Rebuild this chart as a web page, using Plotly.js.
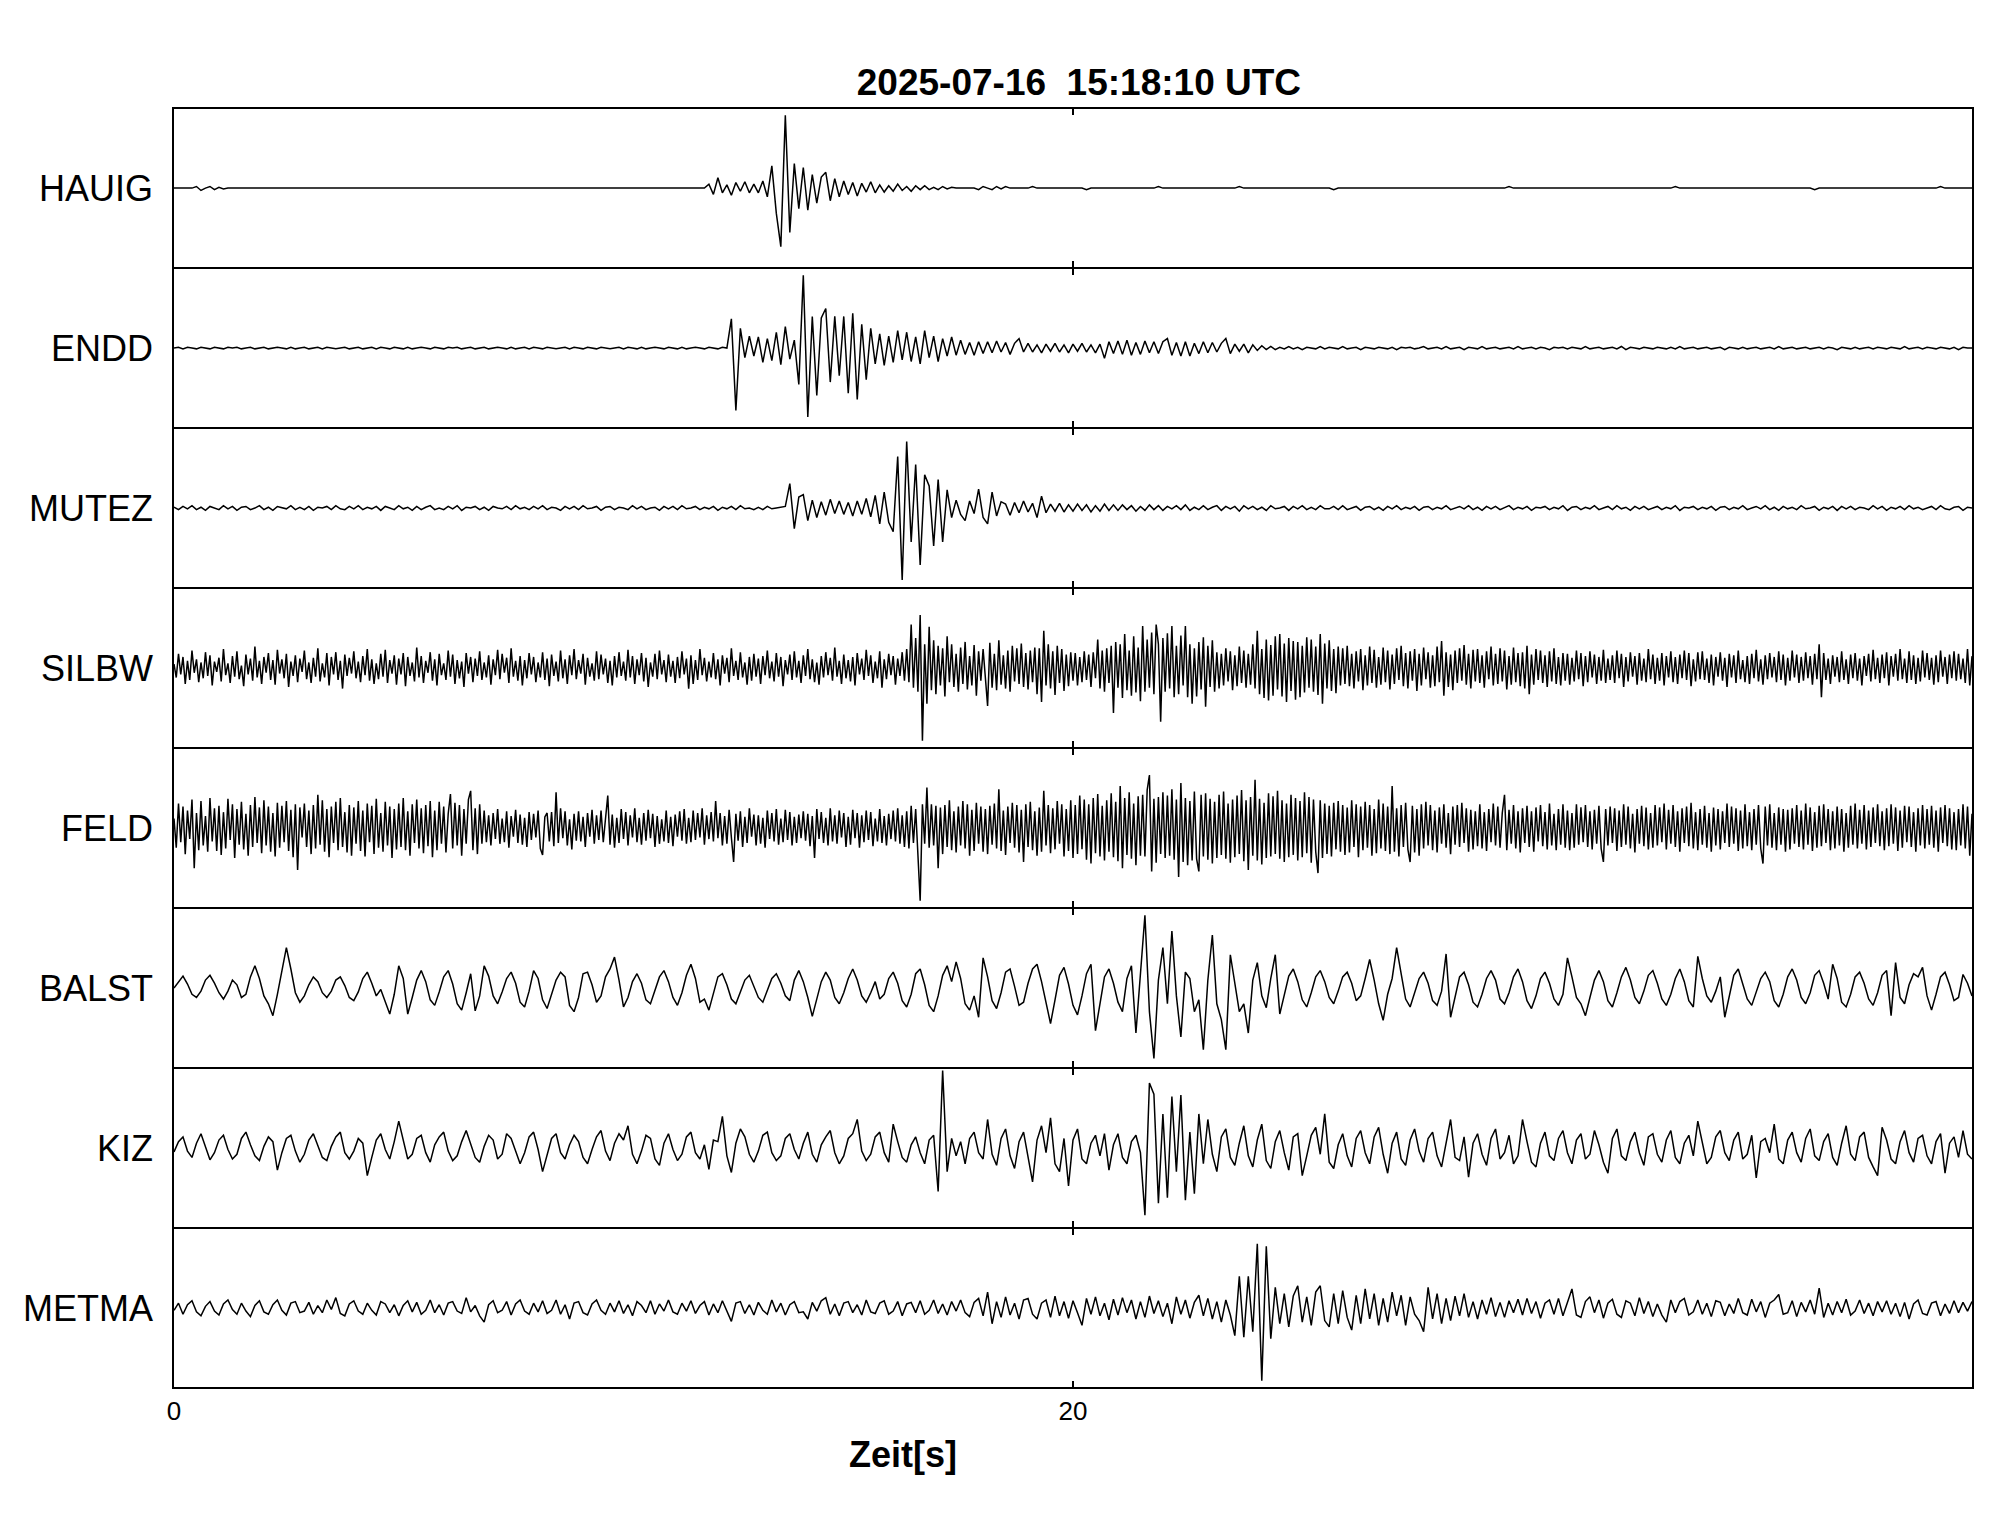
<!DOCTYPE html>
<html>
<head>
<meta charset="utf-8">
<script src="https://cdn.plot.ly/plotly-3.0.1.min.js"></script>
<style>html,body{margin:0;padding:0;background:#fff;}#chart{width:2005px;height:1522px;}</style>
</head>
<body>
<div id="chart"></div>
<script>
// Station names (top to bottom) and sample step (s) of each trace
const stations = ['HAUIG','ENDD','MUTEZ','SILBW','FELD','BALST','KIZ','METMA'];
const sampleStep = [0.1, 0.1, 0.1, 0.05, 0.05, 0.1, 0.1, 0.1];
const xTickVals = [0, 20];
const xTickText = ['0', '20'];
const titleText = '2025-07-16\u00a0 15:18:10 UTC';
const xTitleText = 'Zeit[s]';

// Normalised amplitudes (panel half-height = 100), one row per second
const HAUIG = [
0,0,0,0,0,2,-3,0,2,-2,
1,-1,0,0,0,0,0,0,0,0,
0,0,0,0,0,0,0,0,0,0,
0,0,0,0,0,0,0,0,0,0,
0,0,0,0,0,0,0,0,0,0,
0,0,0,0,0,0,0,0,0,0,
0,0,0,0,0,0,0,0,0,0,
0,0,0,0,0,0,0,0,0,0,
0,0,0,0,0,0,0,0,0,0,
0,0,0,0,0,0,0,0,0,0,
0,0,0,0,0,0,0,0,0,0,
0,0,0,0,0,0,0,0,0,5,
-8,13,-6,4,-9,7,-4,8,-6,5,
-6,9,-11,28,-32,-74,92,-56,31,-26,
26,-28,17,-19,14,20,-16,12,-11,9,
-8,7,-10,6,-5,8,-6,4,-5,3,
-4,5,-3,2,-4,3,-2,3,-2,1,
-2,2,-1,1,0,0,0,0,0,-2,
2,0,-2,2,-1,2,0,0,0,0,
0,2,0,0,0,0,0,0,0,0,
0,0,0,-2,0,0,0,0,0,0,
0,0,0,0,0,0,0,0,0,2,
0,0,0,0,0,0,0,0,0,0,
0,0,0,0,0,0,0,2,0,0,
0,0,0,0,0,0,0,0,0,0,
0,0,0,0,0,0,0,0,-2,0,
0,0,0,0,0,0,0,0,0,0,
0,0,0,0,0,0,0,0,0,0,
0,0,0,0,0,0,0,0,0,0,
0,0,0,0,0,0,0,2,0,0,
0,0,0,0,0,0,0,0,0,0,
0,0,0,0,0,0,0,0,0,0,
0,0,0,0,0,0,0,0,0,0,
0,0,0,0,2,0,0,0,0,0,
0,0,0,0,0,0,0,0,0,0,
0,0,0,0,0,0,0,0,0,0,
0,0,0,0,0,-2,0,0,0,0,
0,0,0,0,0,0,0,0,0,0,
0,0,0,0,0,0,0,0,0,0,
0,0,0,2,0,0,0,0,0,0,
0];

const ENDD = [
0,1,-1,1,0,-1,1,0,-1,1,
0,-1,1,0,1,-1,0,1,-1,0,
1,-1,0,1,0,-1,1,-1,0,1,
-1,0,1,-1,1,0,-1,0,1,-1,
0,1,-1,0,1,-1,1,0,-1,1,
0,-1,1,-1,0,1,0,-1,1,0,
-1,1,0,1,-1,0,1,-1,0,1,
-1,0,1,0,-1,1,-1,0,1,-1,
1,0,-1,1,0,-1,0,1,-1,1,
0,-1,1,0,-1,1,0,-1,0,1,
-1,1,0,-1,1,-1,0,1,0,-1,
1,0,-1,1,-1,0,1,0,-1,1,
0,-1,1,0,37,-79,25,-12,15,-10,
14,-18,12,-16,20,-21,27,-14,10,-46,
92,-87,40,-60,38,50,-43,40,-35,40,
-57,44,-65,30,-40,25,-20,18,-22,15,
-18,22,-15,20,-17,14,-20,22,-12,15,
-17,12,-10,14,-9,10,-8,7,-9,8,
-7,8,-6,9,-5,7,-8,6,12,-5,
6,-5,4,-6,5,-4,6,-5,4,-6,
5,-4,6,-5,4,-6,5,-13,8,-7,
9,-8,10,-9,7,-8,9,-6,8,-7,
8,12,-9,7,-10,8,-10,6,-7,8,
-6,7,-5,6,12,-7,5,-4,5,-6,
4,-3,3,-2,2,-2,1,-1,2,-1,
1,-2,1,0,-1,2,-1,1,0,-1,
2,-1,0,1,-2,1,0,-1,1,0,
-1,1,-2,1,0,1,-1,0,2,-1,
0,1,-1,2,-1,0,1,-2,1,0,
-1,2,-1,0,1,-1,0,1,-1,2,
-1,0,1,-1,1,0,-2,1,0,1,
-1,1,0,-1,2,-1,0,1,-1,0,
1,-1,2,-2,1,0,-1,1,0,-1,
1,0,-1,1,-1,2,-1,0,1,-1,
0,1,-1,0,1,-2,1,0,-1,1,
-1,0,1,-1,0,1,-1,2,-1,0,
1,-1,0,1,-1,0,1,-1,1,0,
-2,1,0,-1,1,-1,0,1,-1,1,
0,-1,1,0,-1,2,-1,0,1,-1,
1,0,-1,1,0,-1,1,-2,1,0,
0];

const MUTEZ = [
1,-2,2,-1,3,-2,1,-3,2,0,
-2,3,-1,2,-3,1,2,-2,0,3,
-2,1,-3,2,0,-1,3,-2,1,-2,
2,-3,1,0,2,-2,3,-1,-2,2,
-1,3,-2,1,-1,2,-3,2,0,-2,
3,-1,1,-3,2,-2,1,3,-2,0,
-2,2,-1,3,-3,1,0,2,-2,1,
-3,2,0,-1,2,-2,3,-1,1,-2,
2,-1,3,-2,1,0,-3,2,-1,2,
-2,3,-1,0,2,-3,1,2,-2,1,
0,-2,3,-1,2,-2,0,1,-3,2,
-1,2,-2,3,-1,0,2,-2,1,-1,
2,-3,1,-1,2,-2,3,-1,0,-2,
1,-2,2,-1,0,1,2,31,-26,14,
17,-16,10,-12,8,-9,11,-7,9,-8,
7,-10,9,-8,12,-11,16,-20,20,-18,
-30,65,-91,84,-43,55,-72,42,28,-48,
36,-43,23,-12,10,-8,-16,9,-7,24,
-12,-20,20,-10,8,5,-9,7,-6,9,
-5,6,-12,15,-6,5,-4,6,-5,4,
-4,5,-3,4,-5,3,-4,5,-3,4,
-3,4,-2,3,-4,2,-3,4,-2,3,
-3,2,-1,3,-2,4,-3,1,-2,3,
-2,1,3,-3,2,-1,2,-4,3,-1,
2,-2,1,-3,3,-1,0,2,-3,2,
-1,3,-2,1,-2,3,-1,-1,2,-2,
3,-2,0,2,-3,1,2,-2,1,-3,
2,-1,3,-2,1,-1,2,-3,1,2,
-2,1,-1,3,-2,0,2,-1,3,-2,
1,-3,2,-1,2,-2,1,3,-2,1,
-1,2,-3,1,0,2,-2,1,-1,3,
-3,1,2,-2,1,-1,3,-2,0,2,
-2,3,-1,1,-3,2,-1,2,-2,0,
2,-2,1,-1,3,-3,1,0,2,-2,
1,-1,2,-3,1,2,-2,1,-1,3,
-2,0,2,-1,3,-2,1,-3,2,-1,
1,-2,3,-1,0,2,-3,1,-1,2,
-3,2,-1,2,-2,1,0,-2,3,-1,
2,-3,1,-1,2,-2,3,-1,1,-2,
0,2,-2,3,-1,-2,1,2,-3,1,
0];

const SILBW = [
5,-12,18,-8,14,-20,9,-15,22,-6,11,-18,7,-13,20,-10,16,-22,8,-5,
13,-17,24,-9,6,-19,15,-11,21,-14,3,-23,17,-8,12,-16,27,-12,9,-20,
14,-6,19,-15,10,-21,23,-7,11,-13,18,-24,8,-10,16,-18,12,-5,22,-14,
7,-19,13,-11,25,-17,6,-12,19,-22,14,-8,20,-15,9,-26,17,-10,13,-7,
21,-13,8,-18,15,-9,24,-16,11,-20,6,-14,18,-11,23,-19,10,-7,16,-21,
12,-8,19,-23,14,-10,7,-17,26,-12,15,-19,9,-6,20,-16,11,-22,18,-9,
6,-15,22,-11,17,-20,10,-13,8,-24,19,-7,14,-18,12,-10,21,-15,7,-12,
16,-21,11,-9,23,-14,18,-6,13,-19,25,-11,9,-16,15,-22,10,-13,19,-8,
14,-18,7,-12,20,-15,12,-23,17,-10,8,-17,22,-13,11,-20,16,-9,24,-14,
10,-7,18,-21,13,-11,6,-16,21,-14,17,-8,12,-19,9,-22,15,-12,20,-10,
8,-16,23,-12,15,-20,11,-9,19,-17,13,-24,7,-11,18,-14,22,-8,10,-18,
17,-11,9,-19,14,-13,21,-8,12,-26,16,-20,10,-15,24,-9,13,-17,8,-12,
19,-14,11,-22,16,-7,13,-18,25,-10,9,-15,20,-12,7,-21,14,-16,18,-11,
12,-20,15,-9,22,-13,8,-17,19,-11,14,-23,10,-8,17,-15,21,-12,9,-19,
16,-10,24,-14,11,-18,7,-21,15,-12,20,-9,13,-16,26,-11,9,-20,17,-13,
10,-17,14,-22,19,-8,12,-15,23,-10,16,-19,8,-13,21,-25,11,-14,18,-9,
15,-21,12,-10,20,-16,24,-18,55,-25,38,-30,67,-92,30,-45,52,-28,35,-33,
28,-22,25,-36,40,-18,30,-24,18,-30,26,-20,33,-27,15,-22,29,-35,21,-16,
24,-19,-48,32,-25,18,-28,35,-21,16,-26,22,-30,28,-17,25,-20,31,-24,19,
-27,22,-18,26,-33,25,-43,47,-22,30,-26,21,-34,28,-19,24,-29,17,-23,20,
-16,19,-22,14,-18,21,-15,17,-24,20,-13,36,-26,22,-30,25,-19,28,-57,33,
-25,30,-38,43,-28,22,-35,40,-31,26,-42,53,-30,36,-25,45,-33,55,30,-68,
38,-30,44,-26,53,-37,28,-33,41,-22,53,-37,30,-45,25,-36,33,-27,39,-49,
28,-24,35,-30,20,-26,18,-22,25,-17,21,-28,16,-23,27,-19,22,-25,18,-21,
30,-26,47,-33,24,-38,36,-41,29,-35,40,-27,43,-36,31,-43,38,-29,34,-40,
33,-37,28,-31,39,-25,36,-30,27,-34,43,-45,31,-26,35,-29,24,-32,27,-22,
25,-20,28,-23,18,-26,21,-17,24,-28,16,-22,27,-19,23,-25,14,-21,26,-18,
22,-27,17,-20,25,-15,28,-23,19,-26,21,-16,24,-29,18,-22,26,-14,20,-25,
16,-23,27,-18,34,-35,20,-24,17,-28,22,-19,25,-16,29,-21,18,-26,23,-17,
24,-19,16,-25,21,-14,27,-22,18,-20,25,-17,22,-27,15,-21,26,-18,19,-23,
20,-26,28,-33,17,-21,24,-15,22,-19,16,-24,21,-17,25,-20,14,-22,19,-16,
18,-21,13,-17,22,-14,19,-23,15,-18,21,-12,17,-20,14,-16,23,-19,12,-15,
16,-19,22,-13,18,-24,14,-17,20,-11,15,-21,19,-16,12,-18,24,-14,17,-20,
13,-16,19,-22,15,-12,21,-18,14,-20,17,-13,22,-15,19,-23,11,-17,20,-14,
21,-15,12,-19,17,-22,14,-11,20,-16,13,-24,18,-12,16,-19,22,-14,10,-18,
15,-20,18,-13,23,-17,11,-21,16,-14,19,-12,14,-18,21,-15,17,-22,13,-16,
22,-12,17,-19,14,-16,20,-13,15,-21,18,-14,30,-37,19,-15,12,-20,16,-11,
14,-18,21,-15,11,-20,17,-13,19,-16,12,-22,15,-10,18,-17,23,-14,13,-19,
17,-13,20,-22,15,-11,18,-16,24,-14,12,-19,21,-15,16,-20,13,-17,22,-12,
19,-15,13,-21,16,-18,22,-11,14,-20,17,-13,21,-16,18,-14,12,-19,24,-22,
15];

const FELD = [
12,-25,31,-18,27,-33,22,-14,36,-51,19,-28,34,-22,15,-30,38,-17,25,-29,
28,-34,20,-26,37,-15,30,-38,24,-21,33,-27,18,-35,29,-24,39,-19,26,-32,
35,-22,27,-30,19,-36,32,-25,28,-18,34,-29,23,-37,30,-53,26,-12,31,-24,
22,-33,29,-26,42,-21,35,-30,24,-37,27,-19,33,-28,38,-24,20,-31,29,-35,
26,-20,34,-29,22,-36,31,-18,28,-33,37,-25,19,-30,33,-22,27,-38,24,-27,
31,-24,38,-28,21,-35,30,-19,36,-26,25,-32,29,-23,34,-37,22,-28,33,-20,
27,-31,18,43,-26,32,-22,29,-35,24,-20,36,47,-28,25,-33,30,-20,22,-18,
16,-22,19,-14,24,-20,12,-18,21,-25,15,-11,23,-19,17,-21,13,-24,20,-15,
18,-12,22,-26,-34,14,19,-17,20,-23,45,-19,25,-13,21,-22,11,-27,18,-16,
21,-17,14,-24,19,-11,23,-20,16,-15,22,-18,12,41,-21,17,-25,13,-19,24,
-14,20,-22,16,-12,25,-18,13,-21,19,-16,23,-13,18,-24,15,-20,11,-17,22,
-19,14,-23,17,-11,21,-16,24,-20,13,-18,22,-15,19,-12,25,-21,16,-14,20,
-17,34,-13,19,-22,15,-20,23,-12,-43,18,-16,21,-24,14,-19,25,-11,17,-22,
16,-20,13,-25,22,-14,19,-17,24,-21,12,-18,23,-15,20,-22,14,-19,17,-13,
21,-16,18,-23,15,-38,24,-14,20,-19,13,-22,25,-17,16,-20,22,-12,19,-24,
14,-21,23,-13,19,-25,16,-18,22,-15,20,-23,12,-17,24,-19,15,-22,18,-14,
22,-17,25,-20,16,-24,21,-26,28,-19,24,-30,-92,30,-20,51,-25,30,-22,28,
-51,26,-33,29,-24,35,-28,21,-31,27,-22,34,-26,30,-35,23,-29,32,-20,27,
-30,24,-33,28,-21,31,-26,49,-29,22,-34,27,-19,32,-25,29,-31,23,-43,30,
-24,33,-28,21,-35,26,-30,47,-22,29,-32,25,-27,34,-20,30,-36,24,-29,35,
-38,29,-33,41,-27,36,-40,30,-45,38,-32,43,-36,28,-41,35,-30,44,-37,33,
-42,53,-51,38,-34,45,-39,31,-47,40,-35,42,-36,48,67,-55,37,-44,39,-33,
45,-38,41,-35,49,-40,36,-62,57,-43,38,-47,34,-41,46,-39,-55,42,-36,44,
-40,37,-45,33,-38,42,-34,46,-39,31,-44,36,-37,41,-33,48,-42,35,-53,39,
-35,61,-41,37,-46,32,-38,44,-36,40,-33,47,-39,35,-43,31,-37,42,-34,38,
-41,34,-37,45,-32,39,-44,36,-30,-57,35,-38,31,-33,28,-36,32,-27,34,-30,
29,-34,26,-31,35,-24,30,-37,27,-28,33,-25,29,-35,24,-32,36,-26,31,-29,
27,-33,53,-30,25,-36,29,-24,32,-27,-43,28,-31,24,-35,30,-26,33,-22,29,
-28,22,-31,26,-20,30,-25,19,-33,27,-21,29,-24,32,-19,25,-30,23,-27,21,
-23,30,-26,20,-29,24,-18,31,-22,27,-25,19,42,-28,23,-20,29,-26,21,-31,
25,-19,28,-24,21,-30,26,-17,29,-23,20,-27,31,-22,18,-28,24,-21,30,-25,
22,-28,19,-25,30,-21,26,-18,29,-24,21,-27,23,-20,28,-26,-43,24,-22,27,
-19,25,-29,22,-24,30,-21,27,-26,18,-31,24,-20,28,-23,26,-27,19,-25,29,
-22,26,-18,31,-27,23,-20,29,-24,21,-30,25,-19,27,-23,32,-26,20,-28,24,
-21,28,-25,19,-30,26,-22,24,-27,21,-19,31,-24,27,-20,25,-29,22,-26,30,
-23,20,-28,24,-21,29,-26,-45,27,-22,30,-25,19,-28,26,-21,24,-30,23,-27,
25,-20,29,-24,22,-27,31,-21,26,-29,20,-25,28,-23,30,-19,24,-28,21,-26,
27,-22,24,-30,19,-25,28,-21,31,-26,23,-20,29,-27,22,-24,26,-19,30,-23,
21,-28,25,-23,30,-20,26,-29,22,-25,28,-18,27,-24,20,-30,25,-22,29,-26,
24,-21,28,-25,22,-30,26,-19,29,-23,25,-27,20,-28,24,-22,30,-26,27,-35,
18];

const BALST = [
0,8,15,5,-8,-12,-4,10,16,6,
-6,-14,-4,10,4,-12,-8,14,28,12,
-10,-20,-35,-8,22,51,24,-6,-18,-10,
4,14,8,-6,-12,-4,10,14,3,-12,
-16,-5,12,20,6,-10,-2,-18,-33,-8,
28,12,-33,-12,10,22,8,-15,-22,-5,
14,22,5,-20,-28,-6,18,-29,-10,28,
15,-10,-20,-5,12,20,6,-18,-24,-4,
22,12,-15,-26,-8,10,20,14,-22,-30,
-12,18,20,4,-18,-10,14,24,39,10,
-24,-12,8,18,6,-15,-20,-4,14,22,
8,-12,-22,-6,16,30,12,-18,-14,-28,
-6,14,18,4,-14,-20,-5,10,16,3,
-12,-18,-4,12,18,6,-10,-16,10,22,
8,-12,-36,-14,8,20,10,-12,-20,-6,
12,24,10,-10,-18,-6,8,-14,-8,12,
20,6,-16,-24,-8,18,24,4,-22,-30,
-10,16,28,8,33,12,-20,-28,-10,-37,
38,14,-16,-26,-6,20,24,2,-22,-18,
6,24,30,8,-20,-45,-15,16,26,5,
-22,-34,-10,18,30,-54,-20,14,24,6,
-18,-30,12,28,-57,20,92,-30,-89,10,
51,-20,72,-10,-62,20,12,-30,-15,-78,
10,67,-20,-40,-78,42,5,-30,-20,-57,
10,32,-10,-25,12,42,-33,-8,15,24,
8,-15,-24,-6,14,22,8,-12,-20,-4,
14,20,6,-16,-10,12,36,10,-20,-41,
-8,12,51,18,-14,-24,-6,12,20,6,
-16,-22,-4,43,-37,-10,14,20,4,-18,
-24,-8,12,22,10,-14,-20,-6,14,24,
8,-16,-26,-10,12,20,6,-14,-22,-8,
38,14,-12,-20,-35,-12,10,22,8,-16,
-24,-6,14,26,10,-12,-20,-4,16,22,
6,-14,-22,-8,12,24,8,-16,-24,40,
12,-10,-18,-4,14,-37,-10,16,24,6,
-14,-22,-6,12,20,8,-16,-24,-8,14,
24,10,-12,-20,-6,16,22,6,-14,30,
12,-18,-24,-8,14,20,6,-14,-22,-6,
16,22,-35,32,-12,-20,4,18,14,26,
-10,-28,-8,14,20,4,-16,-12,17,6,
-10];

const KIZ = [
-5,8,14,-4,-12,6,18,2,-15,-6,
10,16,-2,-14,-8,12,20,4,-10,-16,
2,14,8,-28,-6,12,16,-4,-18,-8,
10,18,4,-12,-16,2,14,20,-6,-14,
-4,12,6,-35,-12,10,18,-2,-14,8,
34,10,-14,-8,12,16,-6,-18,4,14,
20,-4,-16,-10,8,22,6,-12,-18,2,
16,10,-14,-8,18,12,-4,-20,-6,14,
20,-2,-30,-8,12,18,-6,-14,4,16,
8,-12,-20,-2,14,22,-4,-16,6,18,
10,28,-8,-20,-4,16,12,-14,-22,6,
18,-2,-16,-8,14,20,-6,-14,4,-27,
10,8,40,-10,-31,6,24,14,-8,-18,
-4,16,20,-6,-16,-10,12,18,-2,-14,
6,20,-8,-18,4,14,22,-6,-20,-10,
12,18,36,-4,-16,-8,14,20,-6,-18,
30,8,-12,-18,4,14,-6,-20,10,16,
-55,98,-30,12,-10,8,-20,12,20,-6,
-14,36,-8,-22,12,24,-10,-26,8,20,
-12,-43,10,28,-6,38,-20,-30,12,-48,
10,24,-14,-20,6,16,-10,18,-28,4,
18,-12,-20,8,16,-6,-85,82,68,-70,
43,-63,65,-30,67,-66,20,-58,43,-20,
36,-8,-30,14,24,-12,-22,6,28,-10,
-24,10,30,-16,-26,8,22,-6,-28,14,
18,-35,-10,16,26,-8,43,-18,-26,4,
18,-10,-24,12,22,-6,-20,14,26,-8,
-32,6,20,-14,-22,10,24,-4,-18,12,
20,-10,-24,8,36,-12,-16,14,-37,6,
18,-8,-22,12,24,-14,-6,16,-20,-10,
36,8,-18,-24,6,20,-10,-16,12,22,
-6,-20,10,18,-14,-8,22,4,-18,-32,
12,24,-10,-16,8,20,-6,-22,14,18,
-8,-18,10,22,-12,-20,6,16,-10,34,
8,-20,-12,14,22,-6,-16,10,20,-14,
-8,16,-38,8,12,-6,30,-14,-20,10,
20,-6,-18,12,24,-10,-16,8,18,-12,
-22,6,28,-8,-16,14,20,-12,-24,-35,
26,10,-14,-20,8,22,-6,-18,12,16,
-10,-20,8,18,-32,6,14,-12,22,-8,
-14];

const METMA = [
-3,6,-8,4,9,-5,-10,2,8,-4,
-9,5,10,-2,-8,6,-4,-11,3,9,
-5,-8,4,10,-3,-9,6,8,-6,-4,
7,-8,3,-6,10,-2,13,-7,-10,5,
9,-4,-8,6,-3,-9,8,5,-6,4,
-10,3,9,-5,7,-8,-3,10,-6,4,
-9,6,8,-4,-7,13,-5,3,-10,-18,
4,9,-6,-3,8,-9,5,10,-4,-8,
6,-5,9,-7,-3,10,-8,4,-14,6,
8,-6,-9,5,10,-3,-8,6,-5,9,
-7,4,-10,8,3,-6,9,-8,5,-4,
10,-5,-8,6,-4,9,-7,3,8,-9,
5,-6,9,-4,-17,6,8,-7,4,-9,
7,-3,-8,10,-5,6,-9,4,8,-6,
-5,-14,7,-4,9,13,-8,5,-10,6,
8,-6,4,-9,10,-5,-7,6,9,-8,
-4,8,-10,5,7,-6,9,-8,-3,10,
-7,5,-9,8,-4,10,-6,-11,7,12,
-10,20,-20,8,-12,14,-9,6,-14,10,
12,-8,-14,6,10,-12,15,-10,8,-13,
9,-6,-22,12,-8,14,-10,6,-15,11,
-9,13,-6,10,-14,8,-12,15,-7,9,
-11,6,-20,14,-8,10,-13,7,16,-10,
12,-14,8,-18,10,-9,-35,40,-37,40,
-30,81,-92,78,-39,26,-20,18,-24,15,
28,-18,14,-22,20,28,-16,-24,18,-20,
22,-12,-28,16,-20,24,-14,18,-22,12,
-18,20,-10,16,-22,14,-8,-16,-30,26,
-14,18,-20,12,-16,15,-10,18,-12,8,
-14,10,-8,13,-11,7,-12,9,-6,11,
-9,12,-7,8,-13,6,10,-8,12,-10,
7,24,-9,-12,8,14,-6,10,-13,6,
11,-8,-12,9,6,-10,13,-7,8,-11,
5,-9,-18,10,-6,8,12,-9,-5,10,
-8,6,-11,9,7,-10,5,-7,12,-6,
-9,11,-5,8,-12,6,10,17,-8,-6,
9,-11,7,-5,10,-8,25,-12,6,-9,
8,-6,11,-9,-4,10,-7,6,-10,8,
-5,9,-8,6,-11,7,-14,5,10,-7,
-9,6,8,-10,5,-7,9,-6,7,-4,
8];

const series = [HAUIG, ENDD, MUTEZ, SILBW, FELD, BALST, KIZ, METMA];

const FONT = 'Liberation Sans, Arial, Helvetica, sans-serif';
const LW = 1.8;               // frame line width (px)
const PLOT_H = 1522 - 109 - 135;
const n = stations.length;
// Axis lines are drawn outside each domain by half a line width, so a gap of one
// line width between panels makes neighbouring frame lines coincide.
const gap = LW / PLOT_H;
const panelH = (1 - gap * (n - 1)) / n;

const traces = [];
const layout = {
  width: 2005, height: 1522,
  margin: {l: 174, r: 33, t: 109, b: 135, pad: 0},
  paper_bgcolor: '#fff', plot_bgcolor: '#fff',
  showlegend: false,
  title: {
    text: '<b>' + titleText + '</b>',
    font: {family: FONT, size: 37, color: '#000'},
    x: 0.5033, xref: 'paper', xanchor: 'center',
    y: 1 - 82 / 1522, yref: 'container', yanchor: 'middle'
  },
  annotations: [{
    text: '<b>' + xTitleText + '</b>',
    font: {family: FONT, size: 36, color: '#000'},
    xref: 'paper', yref: 'paper', x: 0.4055, y: -0.053,
    xanchor: 'center', yanchor: 'middle', showarrow: false
  }]
};

stations.forEach((name, i) => {
  const vals = series[i];
  const dt = sampleStep[i];
  const xs = vals.map((_, k) => Math.round(k * dt * 1000) / 1000);
  const s = i === 0 ? '' : String(i + 1);
  traces.push({
    x: xs, y: vals, type: 'scatter', mode: 'lines',
    xaxis: 'x' + s, yaxis: 'y' + s,
    line: {color: '#000', width: 1.5},
    hoverinfo: 'skip', showlegend: false
  });
  const top = Math.min(1, 1 - i * (panelH + gap));
  const bot = Math.max(0, top - panelH);
  layout['xaxis' + s] = {
    domain: [0, 1], anchor: 'y' + s, range: [0, 40],
    showline: true, linecolor: '#000', linewidth: LW, mirror: 'ticks',
    ticks: 'inside', ticklen: 6, tickwidth: 1.5, tickcolor: '#000',
    tickmode: 'array', tickvals: xTickVals, ticktext: xTickText,
    showticklabels: i === n - 1,
    tickfont: {family: FONT, size: 26, color: '#000'},
    showgrid: false, zeroline: false, fixedrange: true
  };
  layout['yaxis' + s] = {
    domain: [bot, top], anchor: 'x' + s, range: [-100, 100],
    showline: true, linecolor: '#000', linewidth: LW, mirror: true,
    ticks: '', tickmode: 'array', tickvals: [0], ticktext: [name],
    tickfont: {family: FONT, size: 36, color: '#000'},
    ticklabelstandoff: 12,
    showgrid: false, zeroline: false, fixedrange: true
  };
});

Plotly.newPlot('chart', traces, layout, {staticPlot: true, displayModeBar: false});
</script>
</body>
</html>
